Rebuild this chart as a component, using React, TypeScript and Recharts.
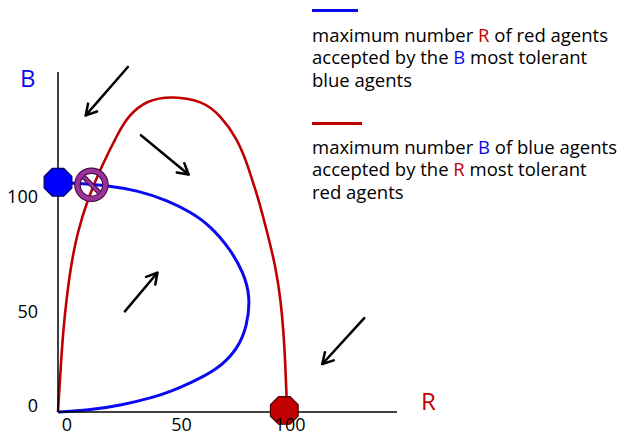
import React from 'react'
import { ComposedChart, Line, ReferenceLine, Scatter, XAxis, YAxis } from 'recharts'

// (R, B) points of the blue agents' limit curve, traced from B = 100 round to the origin
const blueCurve = [
  { r: 0, b: 100 },
  { r: 8, b: 99.6 },
  { r: 21.8, b: 98.6 },
  { r: 34.9, b: 96.4 },
  { r: 48.1, b: 92 },
  { r: 57.7, b: 87.1 },
  { r: 66.5, b: 81.1 },
  { r: 75.2, b: 70.9 },
  { r: 80.9, b: 60.8 },
  { r: 84, b: 50.4 },
  { r: 82.6, b: 37.2 },
  { r: 78.2, b: 27 },
  { r: 69.4, b: 18.3 },
  { r: 57.7, b: 12.6 },
  { r: 48.9, b: 8.8 },
  { r: 42.4, b: 6.6 },
  { r: 27.8, b: 2.9 },
  { r: 13, b: 0.7 },
  { r: 0, b: 0 },
]

// (R, B) points of the red agents' limit curve, from the origin over to R = 100
const redCurve = [
  { r: 0, b: 0 },
  { r: 0.3, b: 5.1 },
  { r: 1.2, b: 19.6 },
  { r: 2.2, b: 34.5 },
  { r: 3.7, b: 49 },
  { r: 5.6, b: 63.5 },
  { r: 8.5, b: 78.3 },
  { r: 13, b: 92.8 },
  { r: 19, b: 106.9 },
  { r: 26.2, b: 121.3 },
  { r: 30.5, b: 128.7 },
  { r: 38.7, b: 135.8 },
  { r: 50, b: 137.6 },
  { r: 63.4, b: 135.3 },
  { r: 70.9, b: 129.1 },
  { r: 78.2, b: 119.1 },
  { r: 82.6, b: 108.1 },
  { r: 85.3, b: 99.3 },
  { r: 87.5, b: 92.8 },
  { r: 91.3, b: 78.3 },
  { r: 95, b: 63.4 },
  { r: 97.2, b: 49 },
  { r: 98.5, b: 34.5 },
  { r: 99.3, b: 19.6 },
  { r: 99.8, b: 6.4 },
  { r: 100, b: 0 },
]

// stable equilibria (all blue / all red) and the unstable crossing
const blueEquilibrium = [{ r: 0, b: 100 }]
const redEquilibrium = [{ r: 98.8, b: 0.7 }]
const unstablePoint = [{ r: 14.6, b: 98.9 }]

// direction-of-motion arrows: [from, to]
const arrows = [
  [{ r: 30.5, b: 150.2 }, { r: 12.1, b: 129.1 }],
  [{ r: 36.2, b: 120.5 }, { r: 57, b: 103.4 }],
  [{ r: 29.2, b: 43.8 }, { r: 43.4, b: 60.6 }],
  [{ r: 133.7, b: 40.9 }, { r: 115.4, b: 20.9 }],
]

const axisTicks = [0, 50, 100]
const axisMax = 148

const BLUE = '#0a0af0'
const RED = '#c00000'
const FONT = '"Open Sans", sans-serif'

function Arrow(props: any) {
  const { x1, y1, x2, y2 } = props
  const a = Math.atan2(y2 - y1, x2 - x1)
  const len = 12
  const spread = Math.PI / 6
  const hx1 = x2 - len * Math.cos(a - spread)
  const hy1 = y2 - len * Math.sin(a - spread)
  const hx2 = x2 - len * Math.cos(a + spread)
  const hy2 = y2 - len * Math.sin(a + spread)
  return (
    <g>
      <line x1={x1} y1={y1} x2={x2} y2={y2} stroke="#000" strokeWidth={2.5} strokeLinecap="round" />
      <polyline points={`${hx1},${hy1} ${x2},${y2} ${hx2},${hy2}`} fill="none" stroke="#000" strokeWidth={2.5} strokeLinecap="round" strokeLinejoin="round" />
    </g>
  )
}

function octagonPoints(cx: number, cy: number, rad: number) {
  const pts: string[] = []
  for (let i = 0; i < 8; i++) {
    const t = Math.PI / 8 + (i * Math.PI) / 4
    pts.push(`${cx + rad * Math.cos(t)},${cy + rad * Math.sin(t)}`)
  }
  return pts.join(' ')
}

const octagon = (fill: string, stroke: string) => (props: any) => (
  <polygon points={octagonPoints(props.cx, props.cy, 15)} fill={fill} stroke={stroke} strokeWidth={1.2} />
)

function NoSign(props: any) {
  const { cx, cy } = props
  const d = 11 * Math.SQRT1_2
  return (
    <g>
      <circle cx={cx} cy={cy} r={14} fill="none" stroke="#3d003d" strokeWidth={6.5} />
      <circle cx={cx} cy={cy} r={14} fill="none" stroke="#993399" strokeWidth={4.5} />
      <line x1={cx - d} y1={cy - d} x2={cx + d} y2={cy + d} stroke="#3d003d" strokeWidth={5} />
      <line x1={cx - d} y1={cy - d} x2={cx + d} y2={cy + d} stroke="#993399" strokeWidth={3} />
    </g>
  )
}

function XTick(props: any) {
  const { x, y, payload } = props
  const dx = payload.value === 100 ? 3 : 9
  return (
    <text x={x + dx} y={y + 4} textAnchor="middle" dominantBaseline="central" fontSize={18} fontFamily={FONT} fill="#000">
      {payload.value}
    </text>
  )
}

function YTick(props: any) {
  const { y, payload } = props
  const dy = payload.value === 0 ? -7 : 14
  return (
    <text x={38} y={y + dy} textAnchor="end" dominantBaseline="central" fontSize={18} fontFamily={FONT} fill="#000">
      {payload.value}
    </text>
  )
}

const legendText: React.CSSProperties = {
  position: 'absolute',
  left: 312,
  fontFamily: FONT,
  fontSize: 18.5,
  lineHeight: '22.8px',
  color: '#000',
  whiteSpace: 'nowrap',
}

export default function App() {
  return (
    <div style={{ position: 'fixed', left: 0, top: 0, width: 619, height: 435, background: '#fff' }}>
      <ComposedChart width={619} height={435} margin={{ top: 72, right: 222, bottom: 0, left: 0 }}>
        <XAxis
          dataKey="r"
          type="number"
          domain={[0, axisMax]}
          ticks={axisTicks}
          height={23}
          axisLine={{ stroke: '#000', strokeWidth: 1.5 }}
          tickLine={false}
          tick={<XTick />}
        />
        <YAxis
          dataKey="b"
          type="number"
          domain={[0, axisMax]}
          ticks={axisTicks}
          width={58}
          axisLine={{ stroke: '#000', strokeWidth: 1.5 }}
          tickLine={false}
          tick={<YTick />}
        />
        {arrows.map(([from, to], i) => (
          <ReferenceLine
            key={i}
            segment={[{ x: from.r, y: from.b }, { x: to.r, y: to.b }]}
            ifOverflow="visible"
            shape={Arrow}
          />
        ))}
        <Line data={redCurve} dataKey="b" type="basis" stroke={RED} strokeWidth={2.6} dot={false} activeDot={false} isAnimationActive={false} />
        <Line data={blueCurve} dataKey="b" type="basis" stroke={BLUE} strokeWidth={3} dot={false} activeDot={false} isAnimationActive={false} />
        <Scatter data={blueEquilibrium} dataKey="b" shape={octagon('#0000ff', '#000060')} isAnimationActive={false} />
        <Scatter data={redEquilibrium} dataKey="b" shape={octagon('#c00000', '#500000')} isAnimationActive={false} />
        <Scatter data={unstablePoint} dataKey="b" shape={NoSign} isAnimationActive={false} />
      </ComposedChart>

      <div style={{ position: 'absolute', left: 20, top: 62, fontFamily: FONT, fontSize: 24, color: BLUE, lineHeight: '32px' }}>B</div>
      <div style={{ position: 'absolute', left: 421, top: 385, fontFamily: FONT, fontSize: 24, color: RED, lineHeight: '32px' }}>R</div>

      <div style={{ position: 'absolute', left: 312, top: 8.5, width: 46, height: 3, background: BLUE }} />
      <div style={{ ...legendText, top: 23.5 }}>
        maximum number <span style={{ color: RED }}>R</span> of red agents
        <br />
        accepted by the <span style={{ color: BLUE }}>B</span> most tolerant
        <br />
        blue agents
      </div>

      <div style={{ position: 'absolute', left: 312, top: 121.5, width: 50, height: 3, background: RED }} />
      <div style={{ ...legendText, top: 135.5 }}>
        maximum number <span style={{ color: BLUE }}>B</span> of blue agents
        <br />
        accepted by the <span style={{ color: RED }}>R</span> most tolerant
        <br />
        red agents
      </div>
    </div>
  )
}
